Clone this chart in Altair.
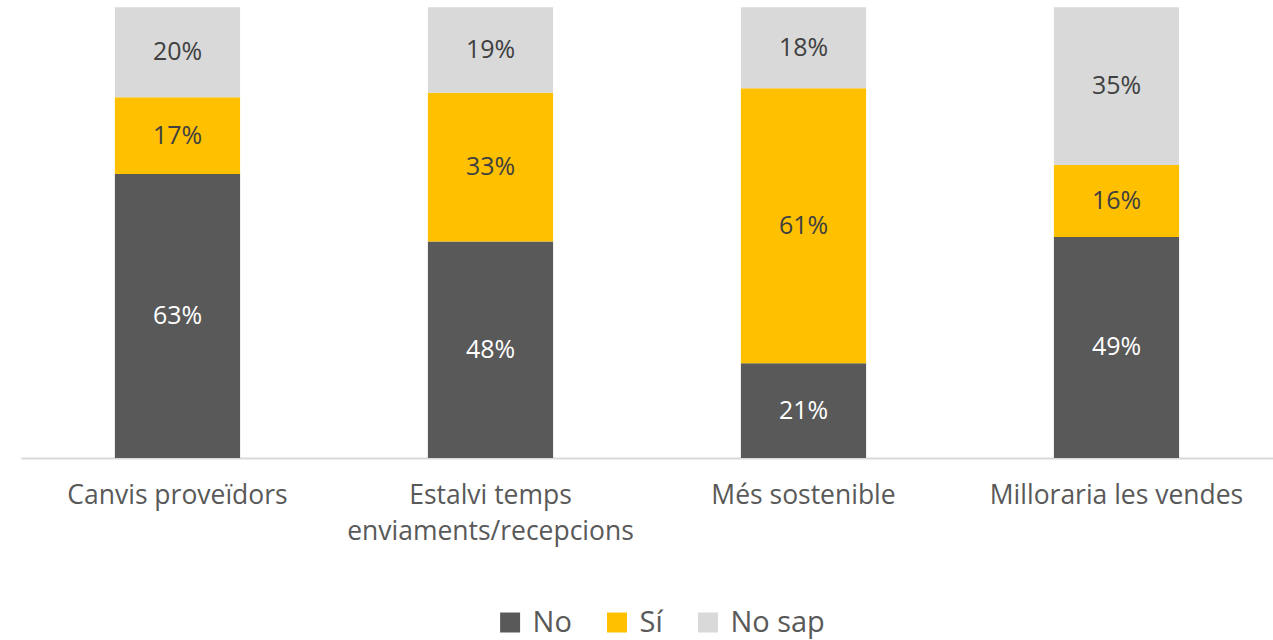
import altair as alt
import pandas as pd

categories = ["Canvis proveïdors", "Estalvi temps enviaments/recepcions", "Més sostenible", "Milloraria les vendes"]
series = ["No", "Sí", "No sap"]
no_vals = [63, 48, 21, 49]
si_vals = [17, 33, 61, 16]
nosap_vals = [20, 19, 18, 35]
colors = ["#595959", "#FFC000", "#D9D9D9"]

rows = []
for i, c in enumerate(categories):
    for j, (s, vals) in enumerate(zip(series, [no_vals, si_vals, nosap_vals])):
        rows.append({"cat": c, "serie": s, "ord": j, "value": vals[i]})
df = pd.DataFrame(rows)

FONT = "Open Sans"

x_enc = alt.X("cat:N", sort=categories, title=None,
              scale=alt.Scale(paddingInner=0.6, paddingOuter=0.3),
              axis=alt.Axis(labelAngle=0, domainColor="#D9D9D9", domainWidth=2, ticks=False,
                            labelFont=FONT, labelFontSize=26.5, labelColor="#595959",
                            labelPadding=25, labelLineHeight=36, labelLimit=500,
                            labelExpr="datum.value == 'Estalvi temps enviaments/recepcions' ? ['Estalvi temps', 'enviaments/recepcions'] : datum.value"))

base = alt.Chart(df).transform_stack(
    stack="value", groupby=["cat"], as_=["y0", "y1"], sort=[alt.SortField("ord", order="ascending")]
).transform_calculate(mid="(datum.y0 + datum.y1) / 2", lbl="datum.value + '%'")

bars = base.mark_bar().encode(
    x=x_enc,
    y=alt.Y("y0:Q", scale=alt.Scale(domain=[0, 100], nice=False), axis=None),
    y2="y1:Q",
    color=alt.Color("serie:N", sort=series,
                    scale=alt.Scale(domain=series, range=colors),
                    legend=alt.Legend(title=None, orient="none", legendX=475, legendY=601,
                                      direction="horizontal", symbolType="square", symbolSize=400,
                                      symbolStrokeWidth=0, labelFont=FONT, labelFontSize=29,
                                      labelColor="#595959", columnPadding=30, labelOffset=8)),
)

texts = base.mark_text(font=FONT, fontSize=25).encode(
    x=alt.X("cat:N", sort=categories),
    y=alt.Y("mid:Q"),
    text="lbl:N",
    color=alt.condition("datum.serie == 'No'", alt.value("#FFFFFF"), alt.value("#404040")),
)

chart = alt.layer(bars, texts).properties(
    width=1253, height=451,
    autosize=alt.AutoSizeParams(type="none"),
    padding={"left": 21, "top": 7, "right": 0, "bottom": 182},
).configure_view(stroke=None).configure_axis(grid=False)

chart.save("out.html", embed_options={"renderer": "svg", "actions": False})
